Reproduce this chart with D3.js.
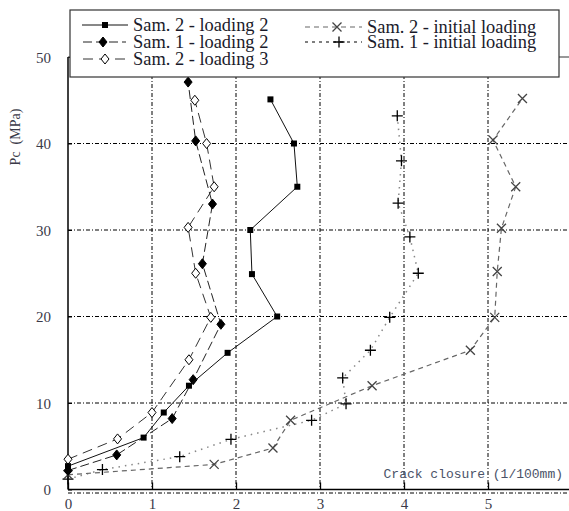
<!DOCTYPE html>
<html>
<head>
<meta charset="utf-8">
<script src="https://cdn.jsdelivr.net/npm/d3@7"></script>
<style>
  html, body { margin: 0; padding: 0; background: #fff; }
  svg { display: block; }
</style>
</head>
<body>
<div id="chart"></div>
<script>
// series data: crack closure (1/100mm) and Pc (MPa)
const sam2Load2X = [0, 0.9, 1.14, 1.44, 1.9, 2.49, 2.19, 2.17, 2.73, 2.69, 2.41];
const sam2Load2Y = [2.7, 6.0, 8.9, 12.0, 15.8, 20.0, 24.9, 30.0, 35.0, 40.0, 45.1];

const sam1Load2X = [0, 0.58, 1.24, 1.49, 1.82, 1.6, 1.72, 1.52, 1.43];
const sam1Load2Y = [2.2, 4.0, 8.2, 12.7, 19.1, 26.1, 33.0, 40.3, 47.1];

const sam2Load3X = [0, 0.59, 1.0, 1.44, 1.7, 1.52, 1.43, 1.74, 1.65, 1.51];
const sam2Load3Y = [3.5, 5.85, 8.9, 15.0, 19.9, 25.0, 30.3, 35.0, 40.0, 45.0];

const sam2InitX = [0, 1.74, 2.44, 2.65, 3.62, 4.79, 5.08, 5.11, 5.16, 5.33, 5.06, 5.41];
const sam2InitY = [1.7, 2.9, 4.8, 8.0, 12.0, 16.1, 19.9, 25.2, 30.2, 35.0, 40.4, 45.2];

const sam1InitX = [0, 0.41, 1.33, 1.94, 2.9, 3.31, 3.27, 3.6, 3.83, 4.17, 4.07, 3.93, 3.97, 3.92];
const sam1InitY = [1.2, 2.3, 3.8, 5.8, 8.0, 9.9, 12.9, 16.1, 19.9, 25.0, 29.2, 33.1, 38.0, 43.2];

const xTicks = [0, 1, 2, 3, 4, 5, 6];
const yTicks = [0, 10, 20, 30, 40, 50];
const yLabel = 'Pc\u00a0 (MPa)';
const xLabel = 'Crack closure (1/100mm)';

const width = 569, height = 511;
const serif = '"Liberation Serif", "Times New Roman", Times, "DejaVu Serif", serif';

const x = d3.scaleLinear().domain([0, 6]).range([68, 572]);
const y = d3.scaleLinear().domain([0, 50]).range([489.5, 57]);

const svg = d3.select('#chart').append('svg')
  .attr('width', width).attr('height', height);

// dash-dot grid
const gridDash = '4,2,1,2';
const grid = svg.append('g');
grid.selectAll('line.gx').data(xTicks.filter(d => d > 0 && d < 6)).join('line')
  .attr('x1', d => x(d)).attr('x2', d => x(d))
  .attr('y1', y(50)).attr('y2', y(0))
  .attr('stroke', '#000').attr('stroke-width', 1).attr('stroke-dasharray', gridDash);
grid.selectAll('line.gy').data(yTicks.filter(d => d > 0 && d < 50)).join('line')
  .attr('x1', x(0)).attr('x2', width)
  .attr('y1', d => y(d)).attr('y2', d => y(d))
  .attr('stroke', '#000').attr('stroke-width', 1).attr('stroke-dasharray', gridDash);
// dashed line just under the bottom axis
grid.append('line')
  .attr('x1', x(0)).attr('x2', width)
  .attr('y1', y(0) + 3.5).attr('y2', y(0) + 3.5)
  .attr('stroke', '#000').attr('stroke-width', 1).attr('stroke-dasharray', gridDash);

// axes (frame left, bottom, top)
const xAxis = d3.axisBottom(x).tickValues(xTicks).tickSize(-7).tickFormat(d3.format('d'));
const yAxis = d3.axisLeft(y).tickValues(yTicks).tickSize(-4).tickFormat(d3.format('d'));

const gx = svg.append('g').attr('transform', `translate(0,${y(0)})`).call(xAxis)
  .attr('font-family', serif).attr('font-size', 15);
gx.select('.domain').attr('d', `M${x(0)},0H${width}`).attr('stroke', '#000').attr('stroke-width', 1.5);
gx.selectAll('.tick line').attr('stroke', '#000').attr('stroke-width', 1.3);
gx.selectAll('.tick text').attr('dy', null).attr('y', 19.5).attr('fill', '#3a3a48');

const gy = svg.append('g').attr('transform', `translate(${x(0)},0)`).call(yAxis)
  .attr('font-family', serif).attr('font-size', 15);
gy.select('.domain').attr('d', `M0,${y(50)}V${y(0)}`).attr('stroke', '#000').attr('stroke-width', 1.5);
gy.selectAll('.tick line').attr('stroke', '#000');
gy.selectAll('.tick text').attr('x', -17).attr('dy', '0.35em').attr('fill', '#3a3a48');

svg.append('line').attr('x1', x(0)).attr('x2', width).attr('y1', y(50)).attr('y2', y(50))
  .attr('stroke', '#333').attr('stroke-width', 1.2);

// axis titles
svg.append('text')
  .attr('transform', 'translate(20,137) rotate(-90)')
  .attr('text-anchor', 'middle')
  .attr('font-family', serif).attr('font-size', 14)
  .attr('fill', '#3a3a48')
  .text(yLabel);

svg.append('text')
  .attr('x', 563).attr('y', 478).attr('text-anchor', 'end')
  .attr('font-family', '"Liberation Mono", "DejaVu Sans Mono", monospace').attr('font-size', 13)
  .attr('fill', '#4a5268')
  .text(xLabel);

// series definitions
const series = [
  { name: 'Sam. 2 - loading 2', xs: sam2Load2X, ys: sam2Load2Y, stroke: '#111', dash: null, marker: 'square', width: 1 },
  { name: 'Sam. 1 - loading 2', xs: sam1Load2X, ys: sam1Load2Y, stroke: '#222', dash: '9,4', marker: 'diamond', width: 1 },
  { name: 'Sam. 2 - loading 3', xs: sam2Load3X, ys: sam2Load3Y, stroke: '#333', dash: '10,6', marker: 'odiamond', width: 1 },
  { name: 'Sam. 2 - initial loading', xs: sam2InitX, ys: sam2InitY, stroke: '#666', dash: '5,4', marker: 'x', width: 1.2 },
  { name: 'Sam. 1 - initial loading', xs: sam1InitX, ys: sam1InitY, stroke: '#888', dash: '1.5,5', marker: 'plus', width: 1.5 }
];

const line = d3.line().x(d => x(d[0])).y(d => y(d[1]));

function drawMarker(g, type, cx, cy) {
  if (type === 'square') {
    g.append('rect').attr('x', cx - 3).attr('y', cy - 3).attr('width', 6).attr('height', 6).attr('fill', '#000');
  } else if (type === 'diamond' || type === 'odiamond') {
    g.append('path').attr('d', `M${cx},${cy - 5}L${cx + 4},${cy}L${cx},${cy + 5}L${cx - 4},${cy}Z`)
      .attr('fill', type === 'diamond' ? '#000' : '#fff')
      .attr('stroke', '#000').attr('stroke-width', 1);
  } else if (type === 'x') {
    g.append('path').attr('d', `M${cx - 4.5},${cy - 4.5}L${cx + 4.5},${cy + 4.5}M${cx - 4.5},${cy + 4.5}L${cx + 4.5},${cy - 4.5}`)
      .attr('stroke', '#444').attr('stroke-width', 1.3);
  } else if (type === 'plus') {
    g.append('path').attr('d', `M${cx - 5.5},${cy}H${cx + 5.5}M${cx},${cy - 5.5}V${cy + 5.5}`)
      .attr('stroke', '#000').attr('stroke-width', 1.3);
  }
}

// draw back to front
series.slice().reverse().forEach(s => {
  const pts = s.xs.map((v, i) => [v, s.ys[i]]);
  const g = svg.append('g');
  g.append('path').datum(pts).attr('d', line)
    .attr('fill', 'none').attr('stroke', s.stroke).attr('stroke-width', s.width)
    .attr('stroke-dasharray', s.dash);
  pts.forEach(p => drawMarker(g, s.marker, x(p[0]), y(p[1])));
});

// legend box
const legend = svg.append('g');
legend.append('rect').attr('x', 70).attr('y', 10).attr('width', 489).attr('height', 67)
  .attr('fill', '#fff').attr('stroke', '#333').attr('stroke-width', 1.2);

const legendPos = [
  { x0: 82, x1: 128, mx: 105, tx: 133, y: 25 },
  { x0: 83, x1: 126, mx: 103, tx: 133, y: 42 },
  { x0: 83, x1: 127, mx: 105, tx: 133, y: 59 },
  { x0: 305, x1: 362, mx: 337, tx: 367, y: 27 },
  { x0: 305, x1: 362, mx: 339, tx: 367, y: 42 }
];

series.forEach((s, i) => {
  const p = legendPos[i];
  legend.append('line').attr('x1', p.x0).attr('x2', p.x1).attr('y1', p.y).attr('y2', p.y)
    .attr('stroke', i === 4 ? '#555' : s.stroke).attr('stroke-width', s.width)
    .attr('stroke-dasharray', i === 4 ? '3,4' : s.dash);
  drawMarker(legend, s.marker, p.mx, p.y);
  legend.append('text').attr('x', p.tx).attr('y', p.y + 5.5)
    .attr('font-family', serif).attr('font-size', 18.4).attr('fill', '#1a1a2a')
    .text(s.name);
});
</script>
</body>
</html>
